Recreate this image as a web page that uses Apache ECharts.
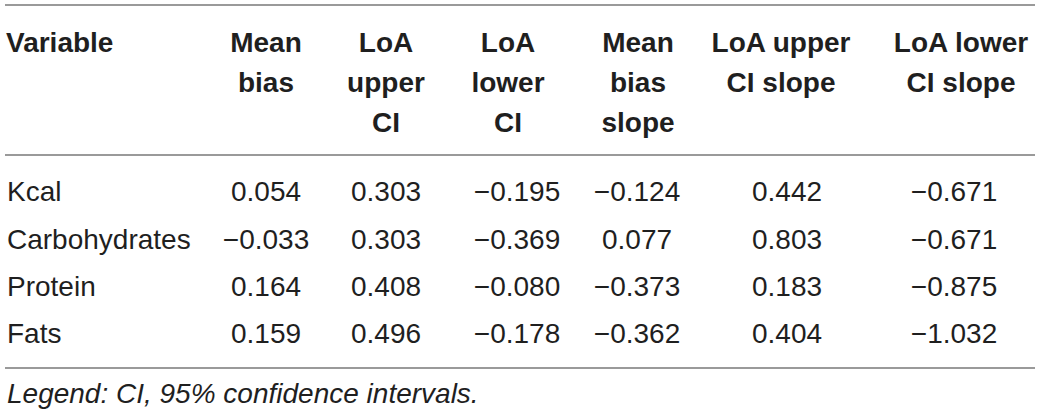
<!DOCTYPE html>
<html>
<head>
<meta charset="utf-8">
<script src="https://cdn.jsdelivr.net/npm/echarts@6/dist/echarts.min.js"></script>
<style>
  html, body { margin: 0; padding: 0; background: #fff; }
  #main { width: 1040px; height: 417px; }
</style>
</head>
<body>
<div id="main"></div>
<script>
// table data
var variables = ['Kcal', 'Carbohydrates', 'Protein', 'Fats'];
var headers = [
  ['Mean', 'bias'],
  ['LoA', 'upper', 'CI'],
  ['LoA', 'lower', 'CI'],
  ['Mean', 'bias', 'slope'],
  ['LoA upper', 'CI slope'],
  ['LoA lower', 'CI slope']
];
var meanBias = [0.054, -0.033, 0.164, 0.159];
var loaUpperCI = [0.303, 0.303, 0.408, 0.496];
var loaLowerCI = [-0.195, -0.369, -0.080, -0.178];
var meanBiasSlope = [-0.124, 0.077, -0.373, -0.362];
var loaUpperSlope = [0.442, 0.803, 0.183, 0.404];
var loaLowerSlope = [-0.671, -0.671, -0.875, -1.032];
var note = 'Legend: CI, 95% confidence intervals.';

var columns = [meanBias, loaUpperCI, loaLowerCI, meanBiasSlope, loaUpperSlope, loaLowerSlope];

// layout (pixels)
var headX = [266, 386, 508, 638, 781, 961];
var valX = [266, 386, 517, 637, 787, 954];
var nameX = 7;
var FONT = '"Liberation Sans", Arial, Helvetica, sans-serif';
var INK = '#1f1f1f';

function fmt(v) {
  return v.toFixed(3).replace('-', '\u2212');
}

var cells = [];
columns.forEach(function (col, c) {
  col.forEach(function (v, r) {
    cells.push([valX[c], r, fmt(v)]);
  });
});
var names = variables.map(function (n, r) { return [nameX, r, n]; });

var graphics = [];
// rules
[5, 155, 368].forEach(function (y) {
  graphics.push({
    type: 'line', silent: true,
    shape: { x1: 5, y1: y, x2: 1035, y2: y },
    style: { stroke: '#9a9a9a', lineWidth: 2 }
  });
});
// header text
graphics.push({
  type: 'text', x: 6, y: 42,
  style: {
    text: 'Variable', font: 'bold 28px ' + FONT, fill: INK,
    textAlign: 'left', textVerticalAlign: 'middle'
  }
});
headers.forEach(function (lines, c) {
  lines.forEach(function (t, k) {
    graphics.push({
      type: 'text', x: headX[c], y: 42 + k * 40,
      style: {
        text: t, font: 'bold 28px ' + FONT, fill: INK,
        textAlign: 'center', textVerticalAlign: 'middle'
      }
    });
  });
});
graphics.push({
  type: 'text', x: 7, y: 393,
  style: {
    text: note, font: 'italic 28px ' + FONT, fill: INK,
    textAlign: 'left', textVerticalAlign: 'middle'
  }
});

function textSeries(name, data, align) {
  return {
    name: name,
    type: 'scatter',
    symbolSize: 0,
    silent: true,
    itemStyle: { opacity: 1 },
    data: data,
    label: {
      show: true,
      position: 'inside',
      align: align,
      verticalAlign: 'middle',
      formatter: function (p) { return p.data[2]; },
      fontFamily: FONT,
      fontSize: 28,
      color: INK,
      opacity: 1
    }
  };
}

var chart = echarts.init(document.getElementById('main'), null, { renderer: 'svg' });
chart.setOption({
  animation: false,
  grid: { left: 0, right: 0, top: 0, bottom: 0 },
  xAxis: { type: 'value', min: 0, max: 1040, show: false },
  yAxis: { type: 'value', min: -4.06, max: 4.76, inverse: true, show: false },
  graphic: graphics,
  series: [
    textSeries('values', cells, 'center'),
    textSeries('variables', names, 'left')
  ]
});
</script>
</body>
</html>
